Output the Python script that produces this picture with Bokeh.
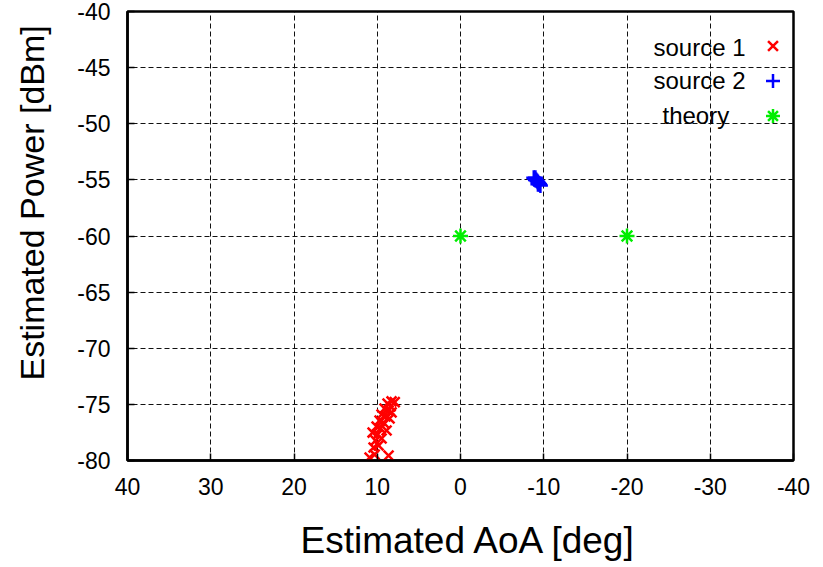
from bokeh.plotting import figure
from bokeh.models import Range1d, FixedTicker, Legend, LegendItem, Label, Title
from bokeh.embed import file_html
from bokeh.resources import INLINE

# ---- data ----
src1_aoa = [10.92, 8.64, 10.44, 10.20, 10.56, 9.96, 10.08, 9.60, 9.72, 9.24, 9.48, 9.00,
            9.12, 8.64, 8.76, 8.28, 7.90, 8.52, 8.28, 9.84, 9.48, 8.88, 10.32, 8.40]
src1_pow = [-79.73, -79.56, -78.84, -78.22, -77.51, -77.68, -76.97, -77.15, -76.44, -76.62,
            -75.90, -76.08, -75.37, -75.55, -74.92, -74.74, -74.80, -76.26, -75.72, -78.66,
            -78.04, -77.33, -79.47, -75.19]
src2_aoa = [-8.8, -8.9, -9.0, -9.1, -9.2, -9.3, -9.4, -9.5, -9.6, -9.0, -9.3]
src2_pow = [-54.8, -54.9, -55.0, -55.0, -55.1, -55.2, -55.3, -55.4, -55.5, -54.8, -55.4]
theory_aoa = [0, -20]
theory_pow = [-60, -60]
x_ticks = [40, 30, 20, 10, 0, -10, -20, -30, -40]
y_ticks = [-80, -75, -70, -65, -60, -55, -50, -45, -40]
legend_labels = ["source 1", "source 2", "theory"]
x_title = "Estimated AoA [deg]"
y_title = "Estimated Power [dBm]"

FONT = "Liberation Sans"

p = figure(width=823, height=567, x_range=Range1d(40, -40), y_range=Range1d(-80, -40),
           output_backend="svg", toolbar_location=None,
           min_border_left=127, min_border_right=30, min_border_top=11, min_border_bottom=107)
p.background_fill_color = "white"
p.border_fill_color = "white"
p.outline_line_color = "black"
p.outline_line_width = 2.5

for ax in [p.xaxis[0], p.yaxis[0]]:
    ax.axis_line_width = 2.5
    ax.major_tick_in = 7
    ax.major_tick_out = 0
    ax.major_tick_line_width = 1.5
    ax.minor_tick_line_color = None
    ax.major_label_text_font = FONT
    ax.major_label_text_font_size = "23px"
    ax.major_label_text_color = "black"
    ax.major_label_standoff = 17

p.xaxis.ticker = FixedTicker(ticks=x_ticks)
p.yaxis.ticker = FixedTicker(ticks=y_ticks)
p.xaxis.major_label_overrides = {t: str(t) for t in x_ticks}
p.yaxis.major_label_overrides = {t: str(t) for t in y_ticks}

p.xgrid.ticker = FixedTicker(ticks=x_ticks)
p.ygrid.ticker = FixedTicker(ticks=y_ticks)
for g in [p.xgrid[0], p.ygrid[0]]:
    g.grid_line_color = "#111111"
    g.grid_line_width = 1
    g.grid_line_dash = "5 3"

r1 = p.scatter(src1_aoa, src1_pow, marker="x", size=14, line_color="#ff0000", line_width=2.5)
r2 = p.scatter(src2_aoa, src2_pow, marker="cross", size=15, line_color="#0000ff", line_width=2.5)
r3 = p.scatter(theory_aoa, theory_pow, marker="asterisk", size=15, line_color="#00ee00", line_width=2.5)

# legend: symbols only (text drawn to their left, gnuplot style)
legend = Legend(items=[LegendItem(label=" ", renderers=[r]) for r in [r1, r2, r3]],
                location=(628, 327), padding=0, margin=0, spacing=0,
                glyph_width=35, glyph_height=35, label_width=0, label_height=20,
                label_standoff=0, border_line_color=None, background_fill_alpha=0,
                label_text_font=FONT, label_text_font_size="24px")
p.add_layout(legend)

for txt, lx, ly in zip(legend_labels, [526, 526, 535], [413, 380, 345]):
    p.add_layout(Label(x=lx, y=ly, x_units="screen", y_units="screen", text=txt,
                       text_font=FONT, text_font_size="24px", text_color="black",
                       text_align="left", text_baseline="middle"))

# axis titles (placed like the reference, slightly off-centre)
p.add_layout(Title(text=x_title, align="left", offset=173, vertical_align="top", standoff=2,
                   padding=dict(top=21, bottom=0, left=0, right=0),
                   text_font=FONT, text_font_size="37px", text_font_style="normal",
                   text_color="black"), "below")
p.add_layout(Title(text=y_title, align="left", offset=80, vertical_align="bottom", standoff=0,
                   padding=dict(top=0, bottom=24, left=0, right=0),
                   text_font=FONT, text_font_size="34px", text_font_style="normal",
                   text_color="black"), "left")

open("out.html", "w").write(file_html(p, INLINE))
